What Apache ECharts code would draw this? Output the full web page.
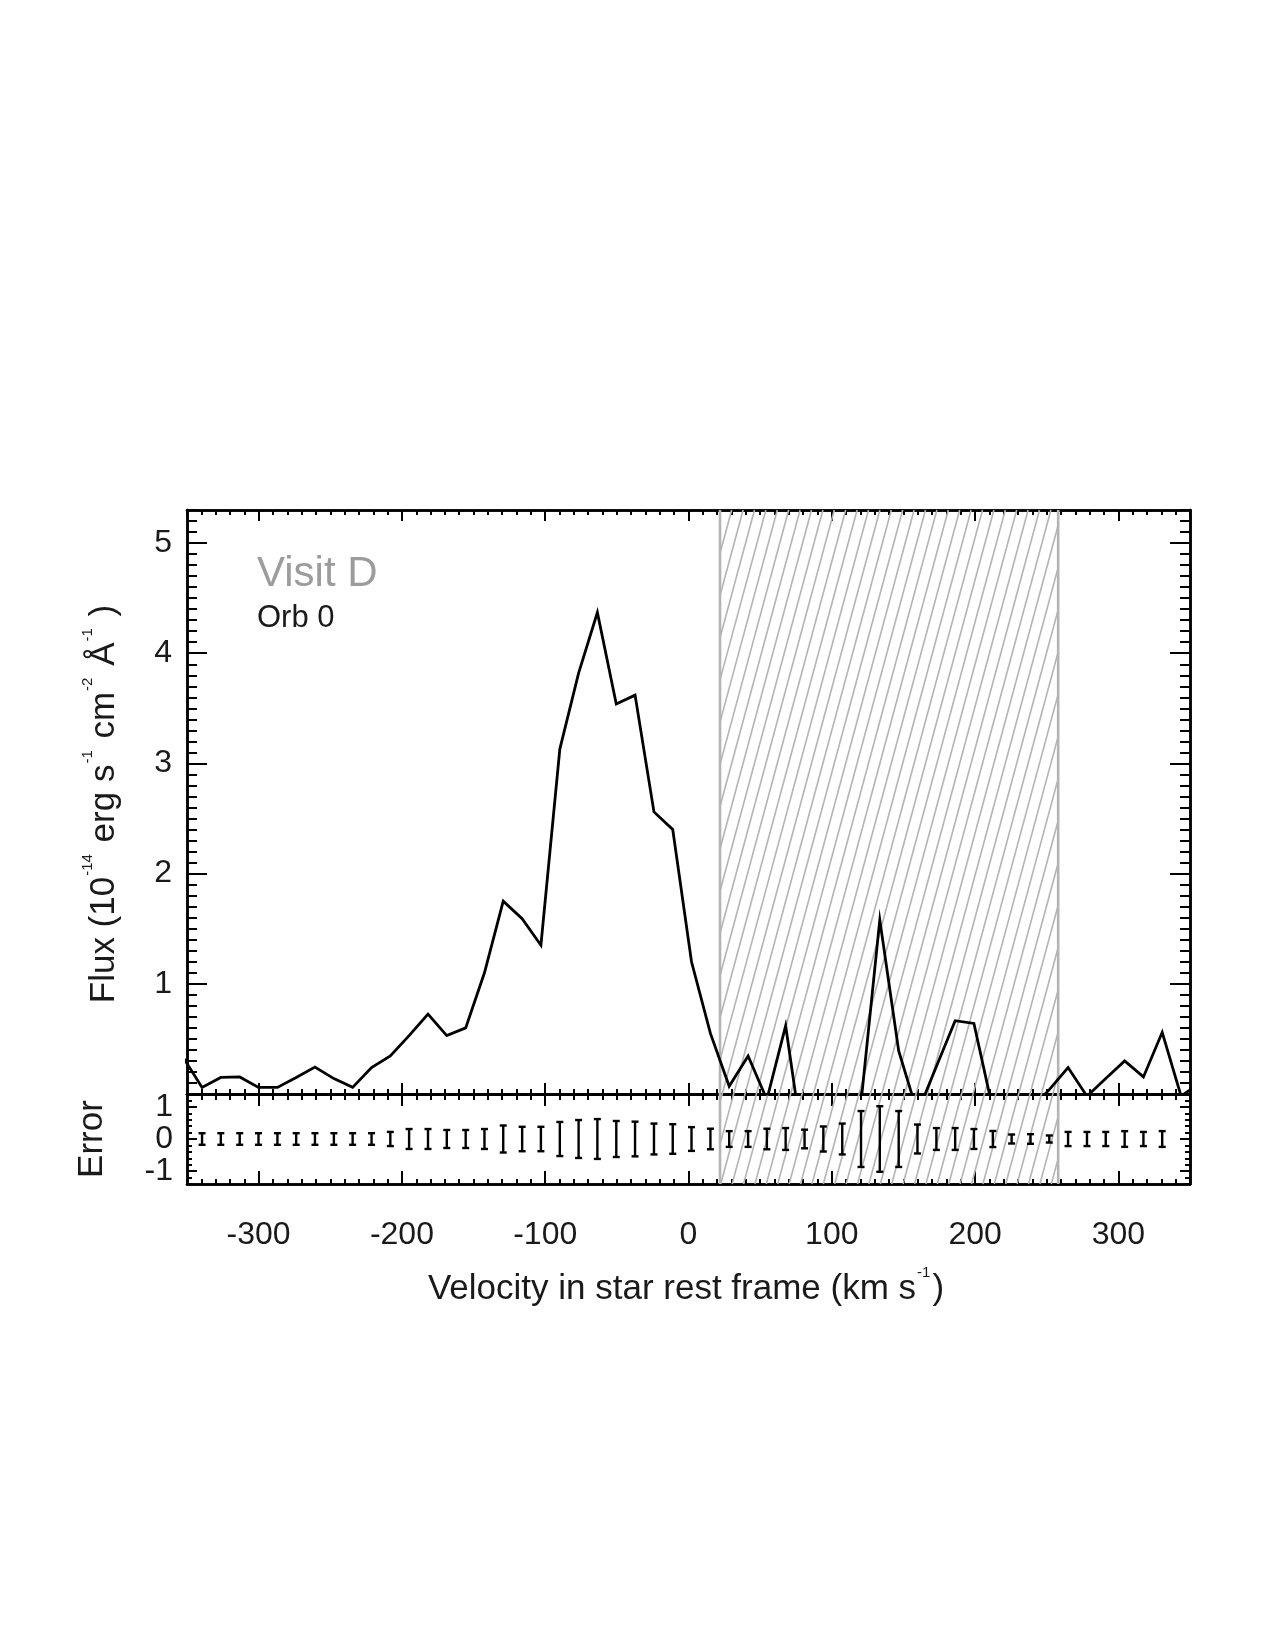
<!DOCTYPE html>
<html>
<head>
<meta charset="utf-8">
<script src="https://cdn.jsdelivr.net/npm/echarts@6/dist/echarts.min.js"></script>
<style>
  html, body { margin: 0; padding: 0; background: #fff; }
  #chart { width: 1275px; height: 1650px; }
</style>
</head>
<body>
<div id="chart"></div>
<script>
// velocity bins (km/s)
const velocity = [
  -352.6, -339.5, -326.4, -313.2, -300.1, -286.9, -273.8, -260.7, -247.5, -234.4,
  -221.2, -208.1, -195.0, -181.8, -168.7, -155.5, -142.4, -129.3, -116.1, -103.0,
  -89.8, -76.7, -63.6, -50.4, -37.3, -24.1, -11.0, 2.1, 15.3, 28.4,
  41.6, 54.7, 67.8, 81.0, 94.1, 107.3, 120.4, 133.5, 146.7, 159.8,
  173.0, 186.1, 199.2, 212.4, 225.5, 238.7, 251.8, 264.9, 278.1, 291.2,
  304.4, 317.5, 330.6, 343.8, 356.9
];

// flux (1e-14 erg/s/cm2/A)
const flux = [
  0.33, 0.06, 0.15, 0.155, 0.06, 0.06, 0.15, 0.245, 0.14, 0.06,
  0.24, 0.345, 0.53, 0.725, 0.53, 0.60, 1.10, 1.75, 1.59, 1.35,
  3.13, 3.82, 4.37, 3.54, 3.62, 2.56, 2.40, 1.20, 0.55, 0.07,
  0.345, -0.05, 0.62, -0.57, -0.40, -0.30, -0.08, 1.58, 0.39, -0.17,
  0.25, 0.665, 0.64, -0.14, -0.20, -0.14, 0.04, 0.24, -0.02, 0.14,
  0.30, 0.155, 0.56, -0.02, 0.10
];

// 1-sigma error per bin (null = not plotted)
const fluxError = [
  null, 0.18, 0.18, 0.18, 0.18, 0.18, 0.18, 0.18, 0.18, 0.18,
  0.18, 0.22, 0.31, 0.31, 0.28, 0.28, 0.31, 0.42, 0.38, 0.38,
  0.53, 0.59, 0.62, 0.56, 0.54, 0.48, 0.46, 0.37, 0.32, 0.245,
  0.245, 0.32, 0.34, 0.29, 0.39, 0.48, 0.87, 1.02, 0.87, 0.45,
  0.34, 0.34, 0.31, 0.25, 0.14, 0.15, 0.11, 0.22, 0.22, 0.22,
  0.245, 0.22, 0.245, null, null
];

const hatchRange = [22, 258];
const xRange = [-350, 350];
const fluxRange = [0, 5.3];
const errorRange = [-1.4, 1.4];
const xMajorTicks = [-300, -200, -100, 0, 100, 200, 300];
const fluxMajorTicks = [0, 1, 2, 3, 4, 5];
const fluxLabels = [1, 2, 3, 4, 5];
const errorMajorTicks = [-1, 0, 1];
const errorLabelsCenter = [0];
const errorLabelsOuter = [-1, 1];

const FONT = "'Liberation Sans', Arial, Helvetica, sans-serif";
const TEXT = "#1a1a1a";
const HATCH_SLOPE = 0.27;   // dx per dy of the hatch lines
const HATCH_STEP = 11.4;
const HATCH_PHASE = 3;
const HATCH_COLOR = "#b4b4b4";

const chart = echarts.init(document.getElementById("chart"), null, { renderer: "canvas" });

function frameAxis(grid, position, range, tick, label) {
  return {
    type: "value",
    gridIndex: grid,
    position,
    min: range[0],
    max: range[1],
    ...(tick.interval ? { interval: tick.interval } : {}),
    axisLine: { show: tick.line !== false, onZero: false, lineStyle: { color: "#000", width: 2.5 } },
    axisTick: {
      show: tick.length > 0,
      inside: true,
      length: tick.length,
      ...(tick.values ? { customValues: tick.values } : {}),
      lineStyle: { color: "#000", width: 2 }
    },
    axisLabel: label
      ? {
          show: true,
          customValues: label.values,
          margin: label.margin,
          fontSize: label.size,
          lineHeight: label.lineHeight || label.size,
          padding: label.padding || 0,
          hideOverlap: false,
          fontFamily: FONT,
          color: TEXT
        }
      : { show: false },
    splitLine: { show: false },
    minorTick: { show: false }
  };
}

const xAxes = [
  // main panel
  frameAxis(0, "bottom", xRange, { interval: 10, length: 5 }),
  frameAxis(0, "bottom", xRange, { values: xMajorTicks, length: 11 }),
  frameAxis(0, "top", xRange, { interval: 10, length: 5 }),
  frameAxis(0, "top", xRange, { values: xMajorTicks, length: 11 }),
  // error panel
  frameAxis(1, "bottom", xRange, { interval: 10, length: 5 }),
  frameAxis(1, "bottom", xRange, { values: xMajorTicks, length: 13 },
    { values: xMajorTicks, margin: 35, size: 32 }),
  frameAxis(1, "top", xRange, { interval: 10, length: 6 }),
  frameAxis(1, "top", xRange, { values: xMajorTicks, length: 12 })
];

const yAxes = [
  frameAxis(0, "left", fluxRange, { interval: 0.1, length: 10 }),
  frameAxis(0, "left", fluxRange, { values: fluxMajorTicks, length: 20 },
    { values: fluxLabels, margin: 15, size: 32, padding: [4, 0, 0, 0] }),
  frameAxis(0, "right", fluxRange, { interval: 0.1, length: 10 }),
  frameAxis(0, "right", fluxRange, { values: fluxMajorTicks, length: 20 }),
  frameAxis(1, "left", errorRange, { interval: 0.2, length: 5 }),
  frameAxis(1, "left", errorRange, { values: errorMajorTicks, length: 10 },
    { values: errorLabelsCenter, margin: 14, size: 32, lineHeight: 20 }),
  frameAxis(1, "right", errorRange, { interval: 0.2, length: 5 }),
  frameAxis(1, "right", errorRange, { values: errorMajorTicks, length: 10 }),
  // ±1 labels on their own axis so they are never dropped as overlapping
  frameAxis(1, "left", errorRange, { values: errorLabelsOuter, length: 0, line: false },
    { values: errorLabelsOuter, margin: 14, size: 32, lineHeight: 20 })
];

function hatchSeries(xi, yi, yRange) {
  return {
    type: "custom",
    xAxisIndex: xi,
    yAxisIndex: yi,
    silent: true,
    z: 1,
    data: [hatchRange],
    renderItem(params, api) {
      const tl = api.coord([api.value(0), yRange[1]]);
      const br = api.coord([api.value(1), yRange[0]]);
      const x0 = tl[0], x1 = br[0], y0 = tl[1], y1 = br[1];
      const s = HATCH_SLOPE;
      const children = [];
      const cMin = x0 + s * y0;
      const cMax = x1 + s * y1;
      let c = Math.ceil((cMin - HATCH_PHASE) / HATCH_STEP) * HATCH_STEP + HATCH_PHASE;
      for (; c <= cMax; c += HATCH_STEP) {
        const ya = Math.max(y0, (c - x1) / s);
        const yb = Math.min(y1, (c - x0) / s);
        if (yb <= ya) continue;
        children.push({
          type: "line",
          shape: { x1: c - s * ya, y1: ya, x2: c - s * yb, y2: yb },
          style: { stroke: HATCH_COLOR, lineWidth: 1.6 }
        });
      }
      [x0, x1].forEach((x) => {
        children.push({
          type: "line",
          shape: { x1: x, y1: y0, x2: x, y2: y1 },
          style: { stroke: HATCH_COLOR, lineWidth: 2.6 }
        });
      });
      return { type: "group", children };
    }
  };
}

const lineData = velocity.map((v, i) => [v, flux[i]]);
const errorData = velocity
  .map((v, i) => [v, fluxError[i]])
  .filter((d) => d[1] != null);

const sup = (t) => `{s|${t}}`;
const titleRich = {
  n: { fontSize: 35, fontFamily: FONT, fill: TEXT, lineHeight: 48 },
  s: { fontSize: 15, fontFamily: FONT, fill: TEXT, lineHeight: 15, verticalAlign: "top", padding: [0, 2, 0, 1] }
};

const option = {
  animation: false,
  backgroundColor: "#fff",
  grid: [
    { left: 187, top: 510, width: 1003, height: 584 },
    { left: 187, top: 1094, width: 1003, height: 90 }
  ],
  xAxis: xAxes,
  yAxis: yAxes,
  series: [
    hatchSeries(0, 0, fluxRange),
    hatchSeries(4, 4, errorRange),
    {
      type: "line",
      xAxisIndex: 0,
      yAxisIndex: 0,
      data: lineData,
      showSymbol: false,
      clip: true,
      z: 5,
      lineStyle: { color: "#000", width: 2.8, join: "miter" }
    },
    {
      type: "custom",
      xAxisIndex: 4,
      yAxisIndex: 4,
      z: 5,
      data: errorData,
      renderItem(params, api) {
        const v = api.value(0);
        const e = api.value(1);
        const top = api.coord([v, e]);
        const bot = api.coord([v, -e]);
        const w = 3.5;
        const st = { stroke: "#000", lineWidth: 2.4 };
        return {
          type: "group",
          children: [
            { type: "line", shape: { x1: top[0], y1: top[1], x2: bot[0], y2: bot[1] }, style: st },
            { type: "line", shape: { x1: top[0] - w, y1: top[1], x2: top[0] + w, y2: top[1] }, style: st },
            { type: "line", shape: { x1: bot[0] - w, y1: bot[1], x2: bot[0] + w, y2: bot[1] }, style: st }
          ]
        };
      }
    }
  ],
  graphic: [
    {
      type: "text",
      x: 257,
      y: 574,
      style: {
        text: "Visit D",
        fontSize: 42,
        fontFamily: FONT,
        fill: "#9c9c9c",
        align: "left",
        verticalAlign: "middle"
      }
    },
    {
      type: "text",
      x: 257,
      y: 618,
      style: {
        text: "Orb 0",
        fontSize: 31,
        fontFamily: FONT,
        fill: TEXT,
        align: "left",
        verticalAlign: "middle"
      }
    },
    {
      type: "text",
      x: 686,
      y: 1289,
      style: {
        text: `{n|Velocity in star rest frame (km s}${sup("-1")}{n|)}`,
        align: "center",
        verticalAlign: "middle",
        rich: titleRich
      }
    },
    {
      type: "text",
      x: 104,
      y: 804,
      rotation: Math.PI / 2,
      style: {
        text: `{n|Flux (10}${sup("-14")}{n| erg s}${sup("-1")}{n| cm}${sup("-2")}{n| Å}${sup("-1")}{n| )}`,
        align: "center",
        verticalAlign: "middle",
        rich: titleRich
      }
    },
    {
      type: "text",
      x: 92,
      y: 1139,
      rotation: Math.PI / 2,
      style: {
        text: "Error",
        fontSize: 35,
        fontFamily: FONT,
        fill: TEXT,
        align: "center",
        verticalAlign: "middle"
      }
    }
  ]
};

chart.setOption(option);
</script>
</body>
</html>
